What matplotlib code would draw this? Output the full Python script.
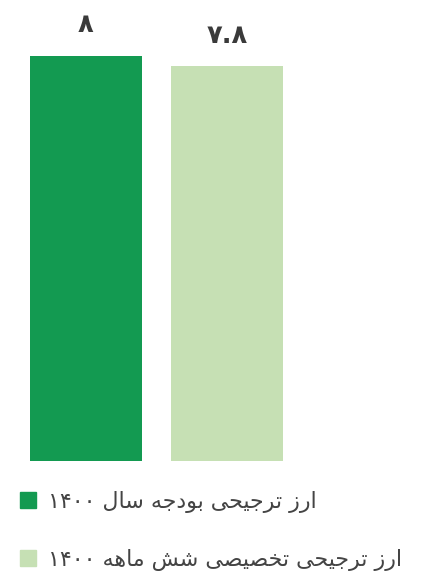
import matplotlib
matplotlib.use("Agg")
import matplotlib.pyplot as plt
from matplotlib.patches import Rectangle

# -----------------------
# Data
# -----------------------
series = ["ارز ترجیحی بودجه سال ۱۴۰۰", "ارز ترجیحی تخصیصی شش ماهه ۱۴۰۰"]
values = [8.0, 7.8]
value_labels = ["۸", "۷.۸"]
colors = ["#139A51", "#C6E0B4"]

# -----------------------
# minimal Persian shaping (matplotlib has no bidi / joining support)
# forms: isolated, final, initial, medial
# -----------------------
FORMS = {
    "ا": ("\uFE8D", "\uFE8E"),
    "ب": ("\uFE8F", "\uFE90", "\uFE91", "\uFE92"),
    "ت": ("\uFE95", "\uFE96", "\uFE97", "\uFE98"),
    "ج": ("\uFE9D", "\uFE9E", "\uFE9F", "\uFEA0"),
    "ح": ("\uFEA1", "\uFEA2", "\uFEA3", "\uFEA4"),
    "خ": ("\uFEA5", "\uFEA6", "\uFEA7", "\uFEA8"),
    "د": ("\uFEA9", "\uFEAA"),
    "ر": ("\uFEAD", "\uFEAE"),
    "ز": ("\uFEAF", "\uFEB0"),
    "س": ("\uFEB1", "\uFEB2", "\uFEB3", "\uFEB4"),
    "ش": ("\uFEB5", "\uFEB6", "\uFEB7", "\uFEB8"),
    "ص": ("\uFEB9", "\uFEBA", "\uFEBB", "\uFEBC"),
    "ل": ("\uFEDD", "\uFEDE", "\uFEDF", "\uFEE0"),
    "م": ("\uFEE1", "\uFEE2", "\uFEE3", "\uFEE4"),
    "ه": ("\uFEE9", "\uFEEA", "\uFEEB", "\uFEEC"),
    "و": ("\uFEED", "\uFEEE"),
    "ی": ("\uFBFC", "\uFBFD", "\uFBFE", "\uFBFF"),
}


def shape_word(word):
    out = []
    for i, ch in enumerate(word):
        if ch not in FORMS:
            out.append(ch)
            continue
        prev = word[i - 1] if i > 0 else None
        nxt = word[i + 1] if i + 1 < len(word) else None
        join_prev = prev in FORMS and len(FORMS[prev]) == 4
        join_next = len(FORMS[ch]) == 4 and nxt in FORMS
        f = FORMS[ch]
        if join_prev and join_next:
            out.append(f[3])
        elif join_prev:
            out.append(f[1])
        elif join_next:
            out.append(f[2])
        else:
            out.append(f[0])
    return "".join(reversed(out))


def rtl(text):
    words = []
    for w in text.split(" "):
        if all(c in "۰۱۲۳۴۵۶۷۸۹.0123456789" for c in w):
            words.append(w)
        else:
            words.append(shape_word(w))
    return " ".join(reversed(words))


plt.rcParams["font.family"] = ["DejaVu Sans"]

W, H = 421, 576
fig = plt.figure(figsize=(W / 100, H / 100), dpi=100)

# axes: bottom at y=461px, value 8 -> top at 56px
ax = fig.add_axes([0, 1 - 461 / H, 1, 405 / H])
x = [0, 1]
bars = ax.bar(x, values, width=112 / 141, color=colors)
ax.set_xlim(-86 / 141, (W - 86) / 141)
ax.set_ylim(0, 8)
ax.axis("off")

for bar, lab in zip(bars, value_labels):
    ax.annotate(lab, (bar.get_x() + bar.get_width() / 2, bar.get_height()),
                xytext=(0, 17), textcoords="offset points",
                ha="center", va="baseline", fontsize=18.5, fontweight="bold",
                color="#3a3a3a", annotation_clip=False)

# legend (drawn manually, one entry per row)
rows_y = [508, 566]
for col, name, yy in zip(colors, series, rows_y):
    fig.patches.append(Rectangle((20 / W, 1 - yy / H), 16 / W, 16 / H,
                                 transform=fig.transFigure, color=col))
    fig.text(48 / W, 1 - yy / H, rtl(name), ha="left", va="baseline",
             fontsize=15.9, color="#444444")

fig.savefig("out.png", dpi=100)
